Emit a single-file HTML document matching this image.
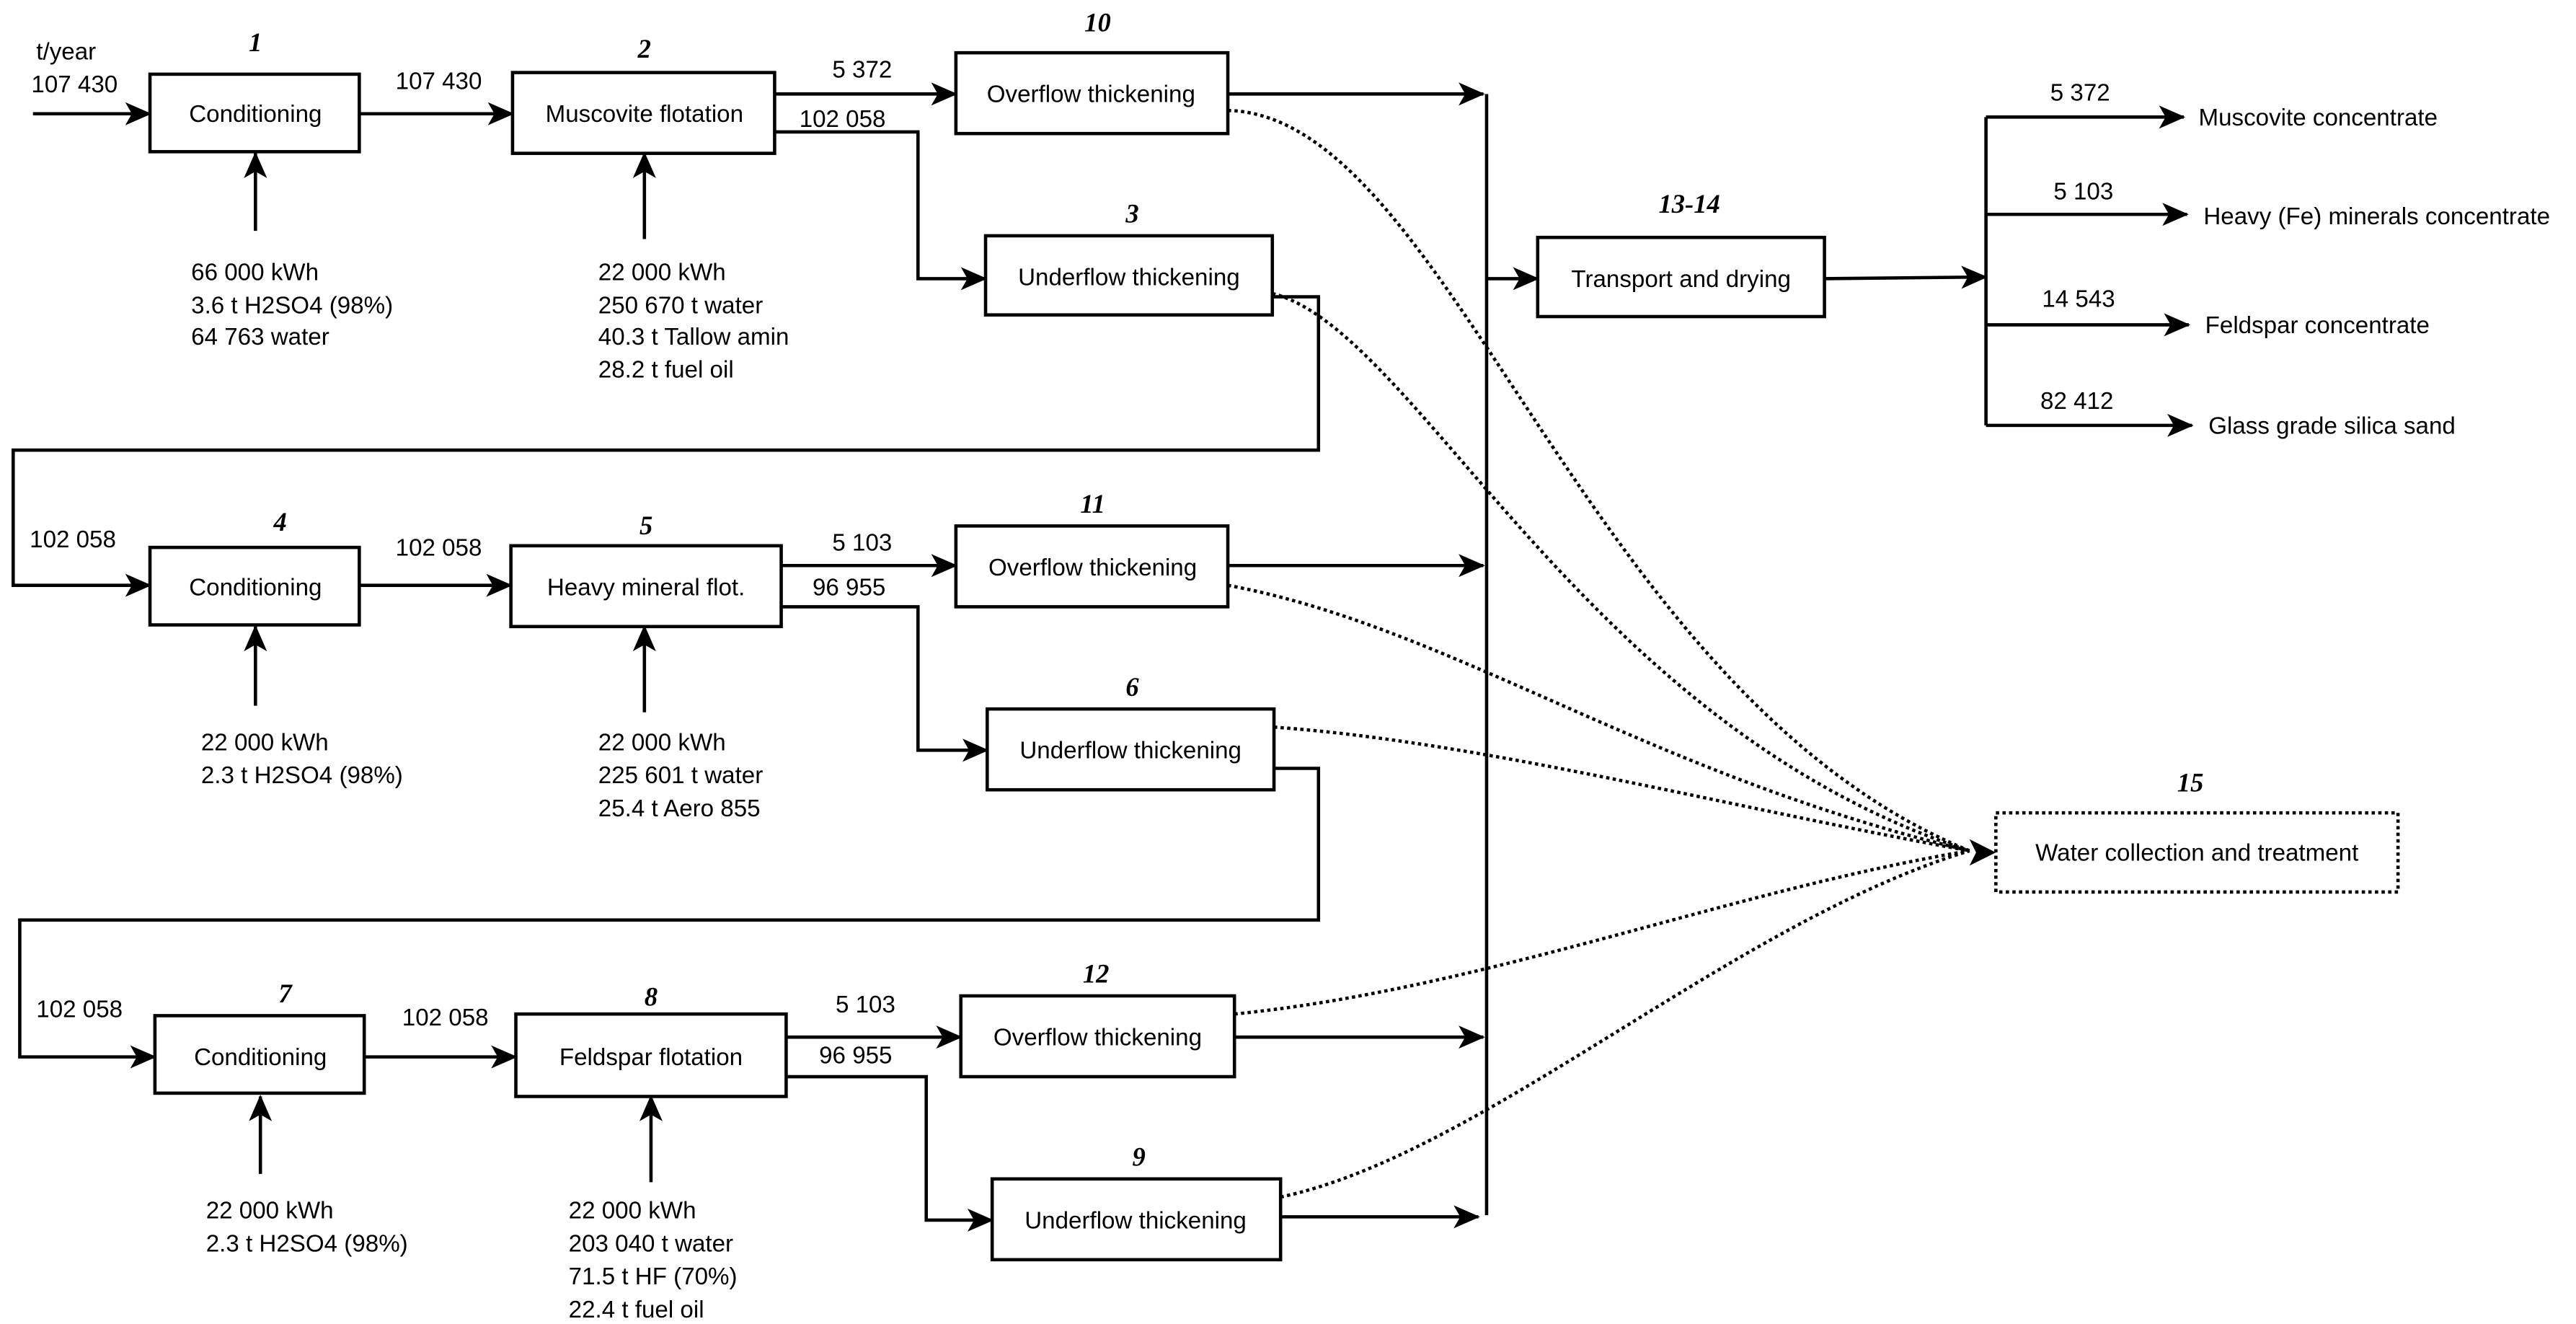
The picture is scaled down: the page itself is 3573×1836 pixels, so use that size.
<!DOCTYPE html>
<html><head><meta charset="utf-8"><style>
html,body{margin:0;padding:0;background:#fff;}
svg{display:block;}
text{font-family:"Liberation Sans",sans-serif;font-size:14.5px;fill:#000;}
.n{font-family:"Liberation Serif",serif;font-style:italic;font-weight:bold;font-size:16px;text-anchor:middle;}
.c{text-anchor:middle;}
</style></head><body>
<svg width="3573" height="1836" viewBox="0 0 1563 803" preserveAspectRatio="none" xmlns="http://www.w3.org/2000/svg">
<defs>
<marker id="a" markerWidth="16" markerHeight="14" refX="15" refY="7" orient="auto" markerUnits="userSpaceOnUse">
<path d="M0,0 L16,7 L0,14 L4,7 z" fill="#000"/>
</marker>
</defs>
<g fill="none" stroke="#000" stroke-width="2">
<!-- boxes -->
<rect x="91" y="45" width="127" height="47"/>
<rect x="311" y="44" width="159" height="49"/>
<rect x="580" y="32" width="165" height="49"/>
<rect x="598" y="143" width="174" height="48"/>
<rect x="91" y="332" width="127" height="47"/>
<rect x="310" y="331" width="164" height="49"/>
<rect x="580" y="319" width="165" height="49"/>
<rect x="599" y="430" width="174" height="49"/>
<rect x="94" y="616" width="127" height="47"/>
<rect x="313" y="615" width="164" height="50"/>
<rect x="583" y="604" width="166" height="49"/>
<rect x="602" y="715" width="175" height="49"/>
<rect x="933" y="144" width="174" height="48"/>
<rect x="1211" y="493" width="244" height="48" stroke-dasharray="2,2"/>
</g>
<g fill="none" stroke="#000" stroke-width="2" marker-end="url(#a)">
<path d="M20,69 H91"/>
<path d="M218,69 H311"/>
<path d="M155,140 V93"/>
<path d="M391,145 V93"/>
<path d="M470,57 H580"/>
<path d="M470,80 H557 V169 H598"/>
<path d="M745,57 H900"/>
<path d="M772,180 H800 V273 H8 V355 H91"/>
<path d="M218,355 H310"/>
<path d="M155,428 V380"/>
<path d="M391,432 V380"/>
<path d="M474,343 H580"/>
<path d="M474,368 H557 V455 H599"/>
<path d="M745,343 H900"/>
<path d="M773,466 H800 V558 H12 V641 H94"/>
<path d="M221,641 H313"/>
<path d="M158,712 V665"/>
<path d="M395,717 V665"/>
<path d="M477,629 H583"/>
<path d="M477,653 H562 V740 H602"/>
<path d="M749,629 H900"/>
<path d="M777,738 H897"/>
<path d="M902,169 H933"/>
<path d="M1107,169 L1205,168"/>
<path d="M1205,71 H1325"/>
<path d="M1205,130 H1327"/>
<path d="M1205,197 H1328"/>
<path d="M1205,258 H1330"/>
</g>
<g fill="none" stroke="#000" stroke-width="2">
<path d="M902,57 V737"/>
<path d="M1205,71 V258"/>
</g>
<g fill="none" stroke="#000" stroke-width="2" stroke-dasharray="2,2">
<path d="M745,67 C880,70 960,420 1195,516"/>
<path d="M772,178 C860,200 960,440 1195,516"/>
<path d="M745,355 C880,380 1000,470 1195,516"/>
<path d="M773,441 C900,450 1050,490 1195,516"/>
<path d="M749,615 C900,600 1050,540 1195,516"/>
<path d="M777,726 C900,700 1050,560 1195,516"/>
</g>
<path d="M1195,509 L1211,517 L1195,525 L1199,517 z" fill="#000"/>
<!-- numbers -->
<text class="n" x="155" y="31">1</text>
<text class="n" x="391" y="35">2</text>
<text class="n" x="666" y="19">10</text>
<text class="n" x="687" y="135">3</text>
<text class="n" x="170" y="322">4</text>
<text class="n" x="392" y="324">5</text>
<text class="n" x="663" y="311">11</text>
<text class="n" x="687" y="422">6</text>
<text class="n" x="173" y="608">7</text>
<text class="n" x="395" y="610">8</text>
<text class="n" x="665" y="596">12</text>
<text class="n" x="691" y="707">9</text>
<text class="n" x="1025" y="129">13-14</text>
<text class="n" x="1329" y="480">15</text>
<!-- box text -->
<text class="c" x="155" y="74">Conditioning</text>
<text class="c" x="391" y="74">Muscovite flotation</text>
<text class="c" x="662" y="62">Overflow thickening</text>
<text class="c" x="685" y="173">Underflow thickening</text>
<text class="c" x="155" y="361">Conditioning</text>
<text class="c" x="392" y="361">Heavy mineral flot.</text>
<text class="c" x="663" y="349">Overflow thickening</text>
<text class="c" x="686" y="460">Underflow thickening</text>
<text class="c" x="158" y="646">Conditioning</text>
<text class="c" x="395" y="646">Feldspar flotation</text>
<text class="c" x="666" y="634">Overflow thickening</text>
<text class="c" x="689" y="745">Underflow thickening</text>
<text class="c" x="1020" y="174">Transport and drying</text>
<text class="c" x="1333" y="522">Water collection and treatment</text>
<!-- flow labels -->
<text x="22" y="36">t/year</text>
<text x="19" y="56">107 430</text>
<text x="240" y="54">107 430</text>
<text x="505" y="47">5 372</text>
<text x="485" y="77">102 058</text>
<text x="18" y="332">102 058</text>
<text x="240" y="337">102 058</text>
<text x="505" y="334">5 103</text>
<text x="493" y="361">96 955</text>
<text x="22" y="617">102 058</text>
<text x="244" y="622">102 058</text>
<text x="507" y="614">5 103</text>
<text x="497" y="645">96 955</text>
<text x="116" y="170">66 000 kWh</text>
<text x="116" y="190">3.6 t H2SO4 (98%)</text>
<text x="116" y="209">64 763 water</text>
<text x="363" y="170">22 000 kWh</text>
<text x="363" y="190">250 670 t water</text>
<text x="363" y="209">40.3 t Tallow amin</text>
<text x="363" y="229">28.2 t fuel oil</text>
<text x="122" y="455">22 000 kWh</text>
<text x="122" y="475">2.3 t H2SO4 (98%)</text>
<text x="363" y="455">22 000 kWh</text>
<text x="363" y="475">225 601 t water</text>
<text x="363" y="495">25.4 t Aero 855</text>
<text x="125" y="739">22 000 kWh</text>
<text x="125" y="759">2.3 t H2SO4 (98%)</text>
<text x="345" y="739">22 000 kWh</text>
<text x="345" y="759">203 040 t water</text>
<text x="345" y="779">71.5 t HF (70%)</text>
<text x="345" y="799">22.4 t fuel oil</text>
<text x="1244" y="61">5 372</text>
<text x="1246" y="121">5 103</text>
<text x="1239" y="186">14 543</text>
<text x="1238" y="248">82 412</text>
<text x="1334" y="76">Muscovite concentrate</text>
<text x="1337" y="136">Heavy (Fe) minerals concentrate</text>
<text x="1338" y="202">Feldspar concentrate</text>
<text x="1340" y="263">Glass grade silica sand</text>
</svg>
</body></html>
